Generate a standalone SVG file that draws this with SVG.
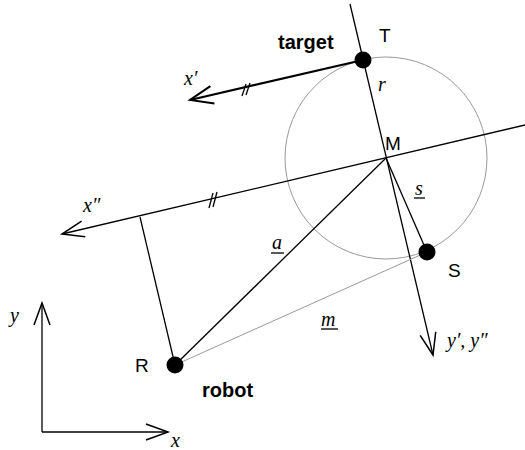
<svg xmlns="http://www.w3.org/2000/svg" width="525" height="450" viewBox="0 0 525 450">
<style>
.ln{stroke:#000;stroke-width:1.3;fill:none}
.thk{stroke:#000;stroke-width:2.2;fill:none}
.thin{stroke:#999;stroke-width:1;fill:none}
.dot{fill:#000}
.lbl{font-family:"Liberation Sans",Arial,sans-serif;font-size:19px;fill:#000}
.bold{font-family:"Liberation Sans",Arial,sans-serif;font-size:20px;font-weight:bold;fill:#000}
.it{font-family:"Liberation Serif","Times New Roman",serif;font-size:20px;font-style:italic;fill:#000}
</style>
<defs>
<marker id="ah" markerUnits="userSpaceOnUse" markerWidth="30" markerHeight="24" viewBox="-24 -12 28 24" refX="0" refY="0" orient="auto">
<path d="M-22,-8 L0,0 L-22,8" fill="none" stroke="#000" stroke-width="1.5"/>
</marker>
<marker id="ah2" markerUnits="userSpaceOnUse" markerWidth="30" markerHeight="24" viewBox="-24 -12 28 24" refX="0" refY="0" orient="auto">
<path d="M-23,-9 L0,0 L-23,9" fill="none" stroke="#000" stroke-width="2"/>
</marker>
</defs>
<g id="circle"><circle cx="386" cy="158" r="101" class="thin"/></g>
<g id="connectors">
<line x1="350" y1="4" x2="433" y2="355" class="ln" marker-end="url(#ah)"/>
<line x1="525" y1="125" x2="62" y2="234" class="ln" marker-end="url(#ah)"/>
<line x1="363" y1="60" x2="190" y2="100" class="thk" marker-end="url(#ah2)"/>
<line x1="175" y1="365" x2="140" y2="217" class="ln"/>
<line x1="175" y1="365" x2="386" y2="158" class="ln"/>
<line x1="386" y1="158" x2="427" y2="252" class="ln"/>
<line x1="175" y1="365" x2="427" y2="252" class="thin"/>
<line x1="209" y1="208" x2="213" y2="193" class="ln"/>
<line x1="213" y1="207" x2="217" y2="192" class="ln"/>
<line x1="242" y1="96" x2="246" y2="84" class="ln"/>
<line x1="246" y1="95" x2="250" y2="83" class="ln"/>
<line x1="42" y1="432" x2="42" y2="303" class="ln" marker-end="url(#ah)"/>
<line x1="42" y1="432" x2="168" y2="432" class="ln" marker-end="url(#ah)"/>
<line x1="271" y1="253" x2="284" y2="253" class="ln"/>
<line x1="414" y1="198" x2="425" y2="198" class="ln"/>
<line x1="321" y1="329" x2="338" y2="329" class="ln"/>
</g>
<g id="T"><circle cx="363" cy="60" r="8.5" class="dot"/><text x="379" y="42" class="lbl">T</text><text x="278" y="49" class="bold">target</text></g>
<g id="M"><text x="385" y="150" class="lbl">M</text></g>
<g id="S"><circle cx="427" cy="252" r="8.5" class="dot"/><text x="448" y="277" class="lbl">S</text></g>
<g id="R"><circle cx="175" cy="365" r="8.5" class="dot"/><text x="135" y="372" class="lbl">R</text><text x="202" y="397" class="bold">robot</text></g>
<g id="labels">
<text x="184" y="85" class="it">x′</text>
<text x="378" y="91" class="it">r</text>
<text x="83" y="212" class="it">x″</text>
<text x="272" y="249" class="it">a</text>
<text x="415" y="195" class="it">s</text>
<text x="321" y="326" class="it">m</text>
<text x="447" y="347" class="it">y′, y″</text>
<text x="10" y="322" class="it">y</text>
<text x="171" y="447" class="it">x</text>
</g>
</svg>
